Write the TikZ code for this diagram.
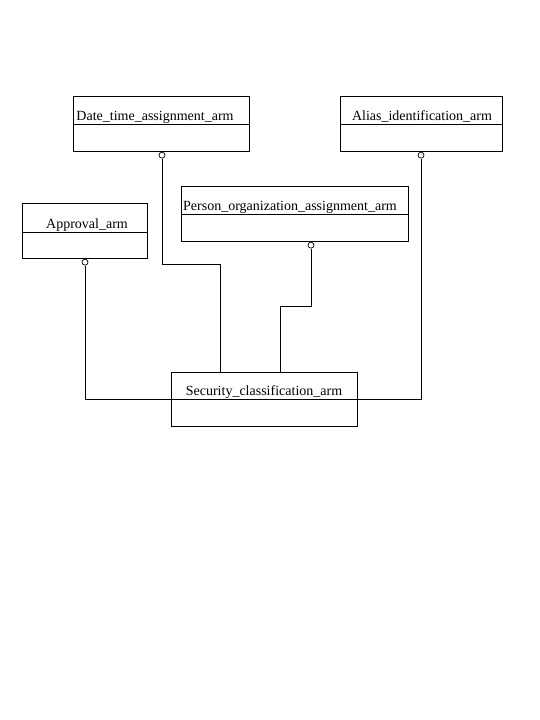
\documentclass[tikz,border=0pt]{standalone}
\usepackage{fontspec}
\setmainfont{Liberation Serif}
\begin{document}
\begin{tikzpicture}[x=1pt,y=-1pt,
  classbox/.style={draw, line width=0.8pt, anchor=north west, inner sep=0pt},
  classname/.style={anchor=base, inner sep=0pt, font=\fontsize{14}{16}\selectfont},
  link/.style={line width=0.8pt},
  hollowdot/.style={circle, draw, fill=white, line width=0.7pt, inner sep=0pt, minimum size=6pt, anchor=north}]
\useasboundingbox (0,0) rectangle (540,720);

% class boxes
\node[classbox, minimum width=176pt, minimum height=55pt] (dt) at (73,96) {};
\node[classbox, minimum width=162pt, minimum height=55pt] (al) at (340,96) {};
\node[classbox, minimum width=125pt, minimum height=55pt] (ap) at (22,203) {};
\node[classbox, minimum width=227pt, minimum height=55pt] (po) at (181,186) {};
\node[classbox, minimum width=186pt, minimum height=54pt] (sc) at (171,372) {};

% compartment dividers
\draw[link] ([yshift=-28pt]dt.north west) -- ([yshift=-28pt]dt.north east);
\draw[link] ([yshift=-28pt]al.north west) -- ([yshift=-28pt]al.north east);
\draw[link] ([yshift=-29pt]ap.north west) -- ([yshift=-29pt]ap.north east);
\draw[link] ([yshift=-28pt]po.north west) -- ([yshift=-28pt]po.north east);
\draw[link] ([yshift=-27pt]sc.north west) -- ([yshift=-27pt]sc.north east);

% class names
\node[classname] (dtname) at (155,120) {Date\_time\_assignment\_arm};
\node[classname] (alname) at (422,120) {Alias\_identification\_arm};
\node[classname] (apname) at (87,228) {Approval\_arm};
\node[classname] (poname) at (290,210) {Person\_organization\_assignment\_arm};
\node[classname] (scname) at (264,395) {Security\_classification\_arm};

% hollow end markers
\node[hollowdot] (dtc) at (dt.south -| 162,0) {};
\node[hollowdot] (alc) at (al.south -| 421,0) {};
\node[hollowdot] (apc) at (ap.south -| 85,0) {};
\node[hollowdot] (poc) at (po.south -| 311,0) {};

% bend points of the routed connectors
\coordinate (dtbend) at (220,264);
\coordinate (pobend) at (280,306);

% connectors
\draw[link] (apc.south) |- (sc.west);
\draw[link] (alc.south) |- (sc.east);
\draw[link] (dtc.south) |- (dtbend) -- (dtbend |- sc.north);
\draw[link] (poc.south) |- (pobend) -- (pobend |- sc.north);
\end{tikzpicture}
\end{document}
